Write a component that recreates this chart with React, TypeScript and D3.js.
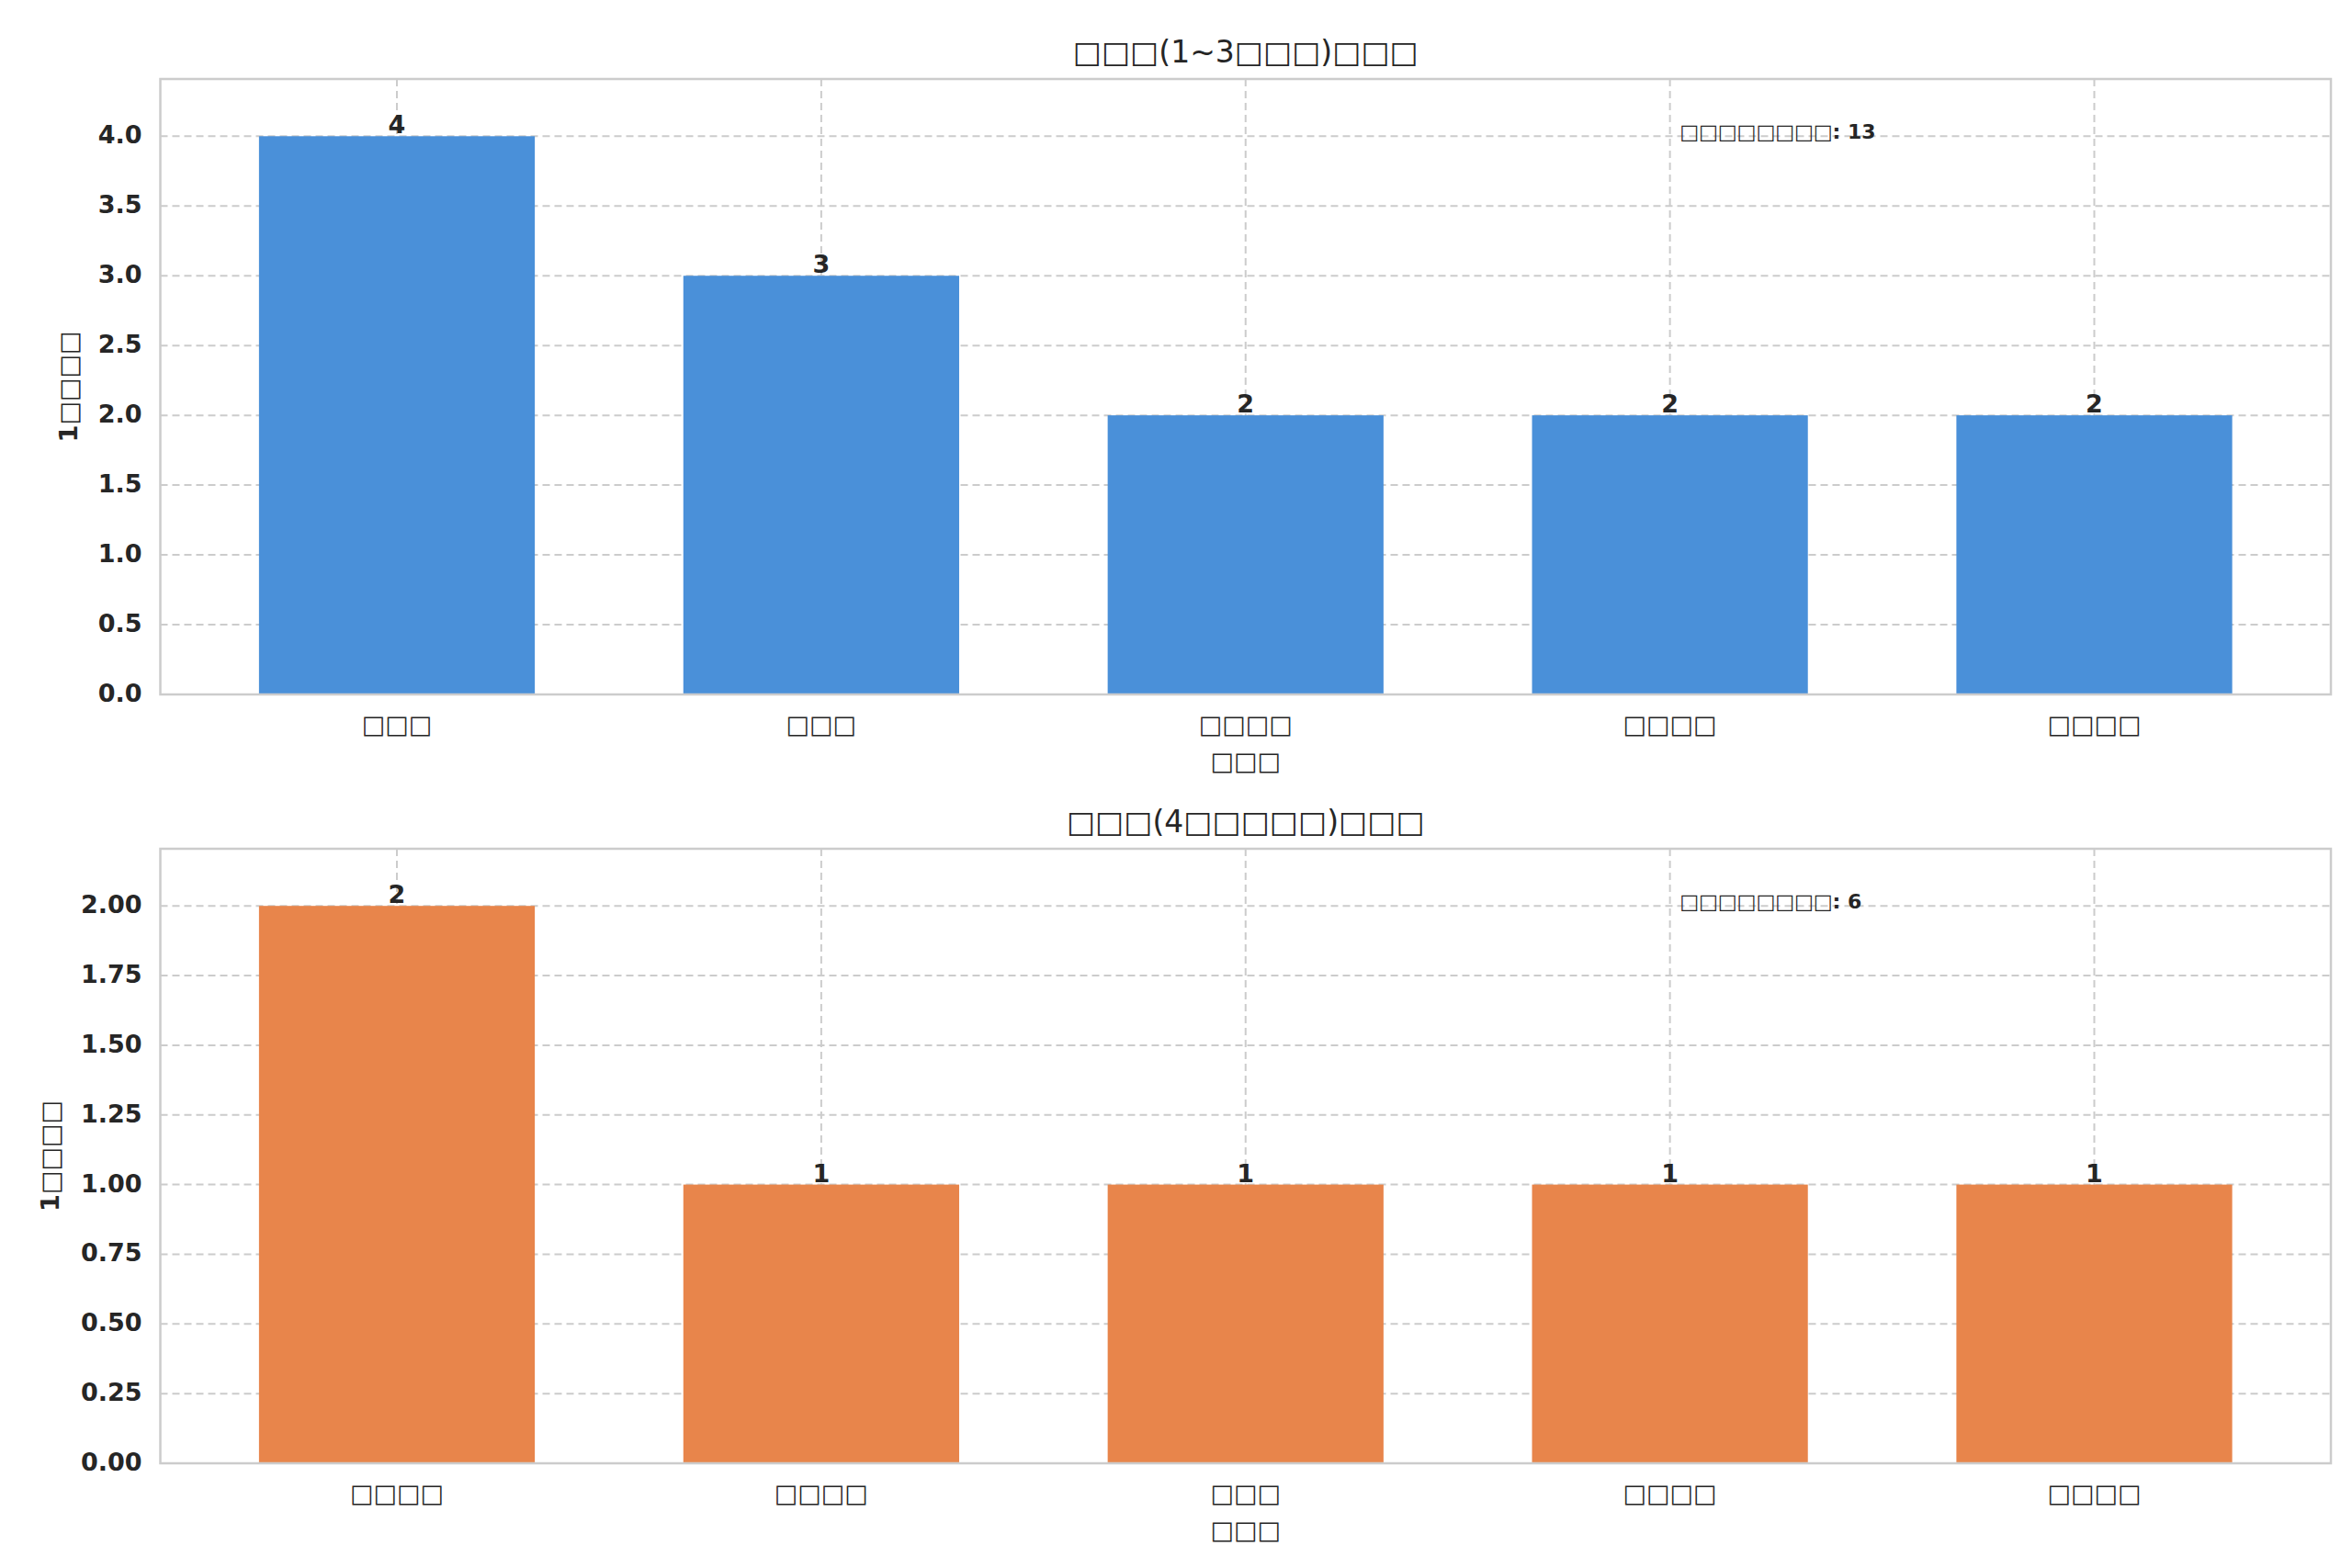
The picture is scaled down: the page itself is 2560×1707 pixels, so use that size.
import * as d3 from "d3";

const topCategories = ["□□□", "□□□", "□□□□", "□□□□", "□□□□"];
const topValues = [4, 3, 2, 2, 2];
const topTicks = [0, 0.5, 1, 1.5, 2, 2.5, 3, 3.5, 4];
const bottomCategories = ["□□□□", "□□□□", "□□□", "□□□□", "□□□□"];
const bottomValues = [2, 1, 1, 1, 1];
const bottomTicks = [0, 0.25, 0.5, 0.75, 1, 1.25, 1.5, 1.75, 2];

const W = 2560;
const H = 1707;
const font = "DejaVu Sans, sans-serif";

function Panel(props: {
  top: number; bottom: number; title: string; cats: string[]; vals: number[];
  ticks: number[]; yMax: number; dec: number; color: string; note: string; ylabelX: number;
}) {
  const { top, bottom, title, cats, vals, ticks, yMax, dec, color, note, ylabelX } = props;
  const left = 166.5, right = 2529;
  const x = d3.scaleLinear().domain([-0.5575, cats.length - 1 + 0.5575]).range([left, right]);
  const y = d3.scaleLinear().domain([0, yMax]).range([bottom, top]);
  const bw = x(0.65) - x(0);
  return (
    <g fontFamily={font} fill="#262626">
      <text x={(left + right) / 2} y={top - 18} textAnchor="middle" fontSize={33}>{title}</text>
      {ticks.map((t) => (
        <g key={t}>
          <line x1={left} x2={right} y1={y(t)} y2={y(t)} stroke="#cccccc" strokeWidth={2} strokeDasharray="8,5" />
          <text x={left - 20} y={y(t) + 8} textAnchor="end" fontSize={27} fontWeight="bold">{t.toFixed(dec)}</text>
        </g>
      ))}
      {cats.map((c, i) => (
        <line key={"v" + i} x1={x(i)} x2={x(i)} y1={top} y2={bottom} stroke="#cccccc" strokeWidth={2} strokeDasharray="8,5" />
      ))}
      {vals.map((v, i) => (
        <g key={"b" + i}>
          <rect x={x(i) - bw / 2} y={y(v)} width={bw} height={y(0) - y(v)} fill={color} />
          <text x={x(i)} y={y(v) - 3} textAnchor="middle" fontSize={27} fontWeight="bold">{v}</text>
          <text x={x(i)} y={bottom + 42} textAnchor="middle" fontSize={27}>{cats[i]}</text>
        </g>
      ))}
      <rect x={left} y={top} width={right - left} height={bottom - top} fill="none" stroke="#cccccc" strokeWidth={2.5} />
      <text x={(left + right) / 2} y={bottom + 82} textAnchor="middle" fontSize={27}>□□□</text>
      <text transform={`translate(${ylabelX},${(top + bottom) / 2}) rotate(-90)`} textAnchor="middle" fontSize={27} fontWeight="bold">1□□□□</text>
      <text x={left + 0.7 * (right - left)} y={top + 0.097 * (bottom - top)} fontSize={22} fontWeight="bold">{note}</text>
    </g>
  );
}

export default function App() {
  return (
    <svg width={W} height={H} style={{ display: "block", background: "#fff" }}>
      <Panel top={78} bottom={748} title="□□□(1~3□□□)□□□" cats={topCategories} vals={topValues}
        ticks={topTicks} yMax={4.41} dec={1} color="#4a90d9" note="□□□□□□□□: 13" ylabelX={76} />
      <Panel top={916} bottom={1585} title="□□□(4□□□□□)□□□" cats={bottomCategories} vals={bottomValues}
        ticks={bottomTicks} yMax={2.205} dec={2} color="#e8854b" note="□□□□□□□□: 6" ylabelX={56} />
    </svg>
  );
}
